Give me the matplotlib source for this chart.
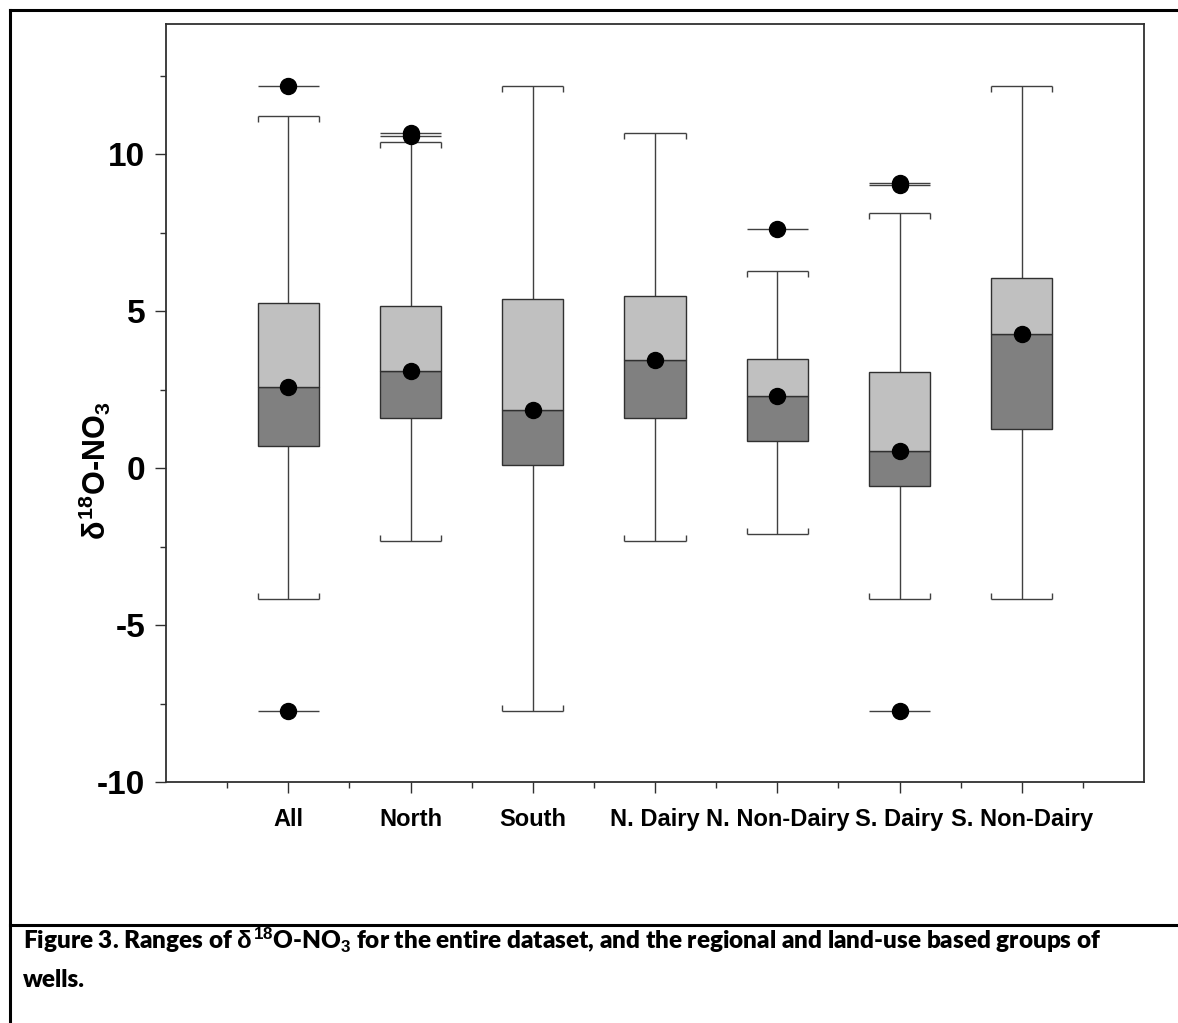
# Box plot of delta-18O of nitrate by well group (Figure 3 recreation)

import matplotlib
matplotlib.use("Agg")
import matplotlib.pyplot as plt
from matplotlib.lines import Line2D

plt.rcParams['font.family'] = ['Liberation Sans', 'DejaVu Sans']
plt.rcParams['axes.unicode_minus'] = False
plt.rcParams['mathtext.fontset'] = 'custom'
plt.rcParams['mathtext.rm'] = 'Liberation Sans:bold'
plt.rcParams['mathtext.it'] = 'Liberation Sans:bold'
plt.rcParams['mathtext.bf'] = 'Liberation Sans:bold'

# values
categories = ['All', 'North', 'South', 'N. Dairy', 'N. Non-Dairy', 'S. Dairy', 'S. Non-Dairy']
q1 = [0.71, 1.59, 0.11, 1.60, 0.86, -0.56, 1.25]
median = [2.59, 3.10, 1.86, 3.44, 2.29, 0.53, 4.28]
q3 = [5.25, 5.16, 5.40, 5.47, 3.48, 3.05, 6.07]
whisker_lo = [-4.18, -2.32, -7.74, -2.32, -2.09, -4.18, -4.18]
whisker_hi = [11.23, 10.40, 12.16, 10.67, 6.29, 8.12, 12.16]
outliers = [[12.16, -7.74], [10.69, 10.58], [], [], [7.63], [9.10, 9.01, -7.74], []]

light = '#c0c0c0'
dark = '#808080'
wcol = '#404040'
box_w = 0.5
hook = 0.19  # little end ticks on whisker caps

fig = plt.figure(figsize=(11.78, 10.23), dpi=100)
ax = fig.add_axes([166 / 1178, 241 / 1023, 978 / 1178, 758 / 1023])

pos = list(range(1, len(categories) + 1))

for i, x in enumerate(pos):
    # whiskers
    ax.vlines(x, whisker_lo[i], q1[i], color=wcol, lw=1.0, zorder=1)
    ax.vlines(x, q3[i], whisker_hi[i], color=wcol, lw=1.0, zorder=1)
    # caps with small hooks pointing toward the box
    ax.hlines([whisker_lo[i], whisker_hi[i]], x - box_w / 2, x + box_w / 2, color=wcol, lw=1.0, zorder=1)
    for xe in (x - box_w / 2, x + box_w / 2):
        ax.vlines(xe, whisker_hi[i] - hook, whisker_hi[i], color=wcol, lw=1.0, zorder=1)
        ax.vlines(xe, whisker_lo[i], whisker_lo[i] + hook, color=wcol, lw=1.0, zorder=1)
    # two-tone box
    ax.bar(x, median[i] - q1[i], bottom=q1[i], width=box_w, color=dark,
           edgecolor='#303030', linewidth=1.0, zorder=2)
    ax.bar(x, q3[i] - median[i], bottom=median[i], width=box_w, color=light,
           edgecolor='#303030', linewidth=1.0, zorder=2)
    # outliers: line across the box width plus dot
    for v in outliers[i]:
        ax.hlines(v, x - box_w / 2, x + box_w / 2, color=wcol, lw=1.0, zorder=1)
    ax.plot([x] * len(outliers[i]), outliers[i], 'o', color='black', ms=11.5, zorder=4)

ax.plot(pos, median, 'o', color='black', ms=11.5, linestyle='none', zorder=4)

ax.set_xlim(0, 8)
ax.set_ylim(-10, 14.15)
ax.set_xticks(pos)
ax.set_xticklabels(categories, fontsize=17, fontweight='bold')
ax.set_xticks([p - 0.5 for p in pos] + [7.5], minor=True)
ax.set_yticks([-10, -5, 0, 5, 10])
ax.set_yticklabels(['-10', '-5', '0', '5', '10'], fontsize=24, fontweight='bold')
ax.set_yticks([-7.5, -2.5, 2.5, 7.5, 12.5], minor=True)
ax.tick_params(axis='both', which='major', direction='out', length=8, width=1.0, color='#303030')
ax.tick_params(axis='both', which='minor', direction='out', length=4.5, width=1.0, color='#303030')
ax.tick_params(axis='x', which='major', pad=11)
ax.tick_params(axis='y', which='major', pad=7)
for s in ax.spines.values():
    s.set_linewidth(1.3)
    s.set_color('#303030')

ax.set_ylabel(r'$\delta^{18}$O-NO$_3$', fontsize=22, fontweight='bold')
ax.yaxis.set_label_coords(-0.054, 0.41)

# outer frame and caption separator
fig.add_artist(Line2D([10 / 1178, 10 / 1178], [0, 1 - 10 / 1023], color='black', lw=2.2))
fig.add_artist(Line2D([10 / 1178, 1], [1 - 10 / 1023, 1 - 10 / 1023], color='black', lw=2.2))
fig.add_artist(Line2D([10 / 1178, 1], [1 - 925 / 1023, 1 - 925 / 1023], color='black', lw=2.2))

cap_font = ['Lato', 'DejaVu Sans']
fig.text(23 / 1178, 1 - 949 / 1023,
         r'Figure 3. Ranges of $\delta^{18}$O-NO$_3$ for the entire dataset, and the regional and land-use based groups of',
         fontsize=17.5, fontweight='heavy', family=cap_font, va='baseline', ha='left')
fig.text(23 / 1178, 1 - 987 / 1023, 'wells.',
         fontsize=17.5, fontweight='heavy', family=cap_font, va='baseline', ha='left')

fig.savefig('out.png', dpi=100)
